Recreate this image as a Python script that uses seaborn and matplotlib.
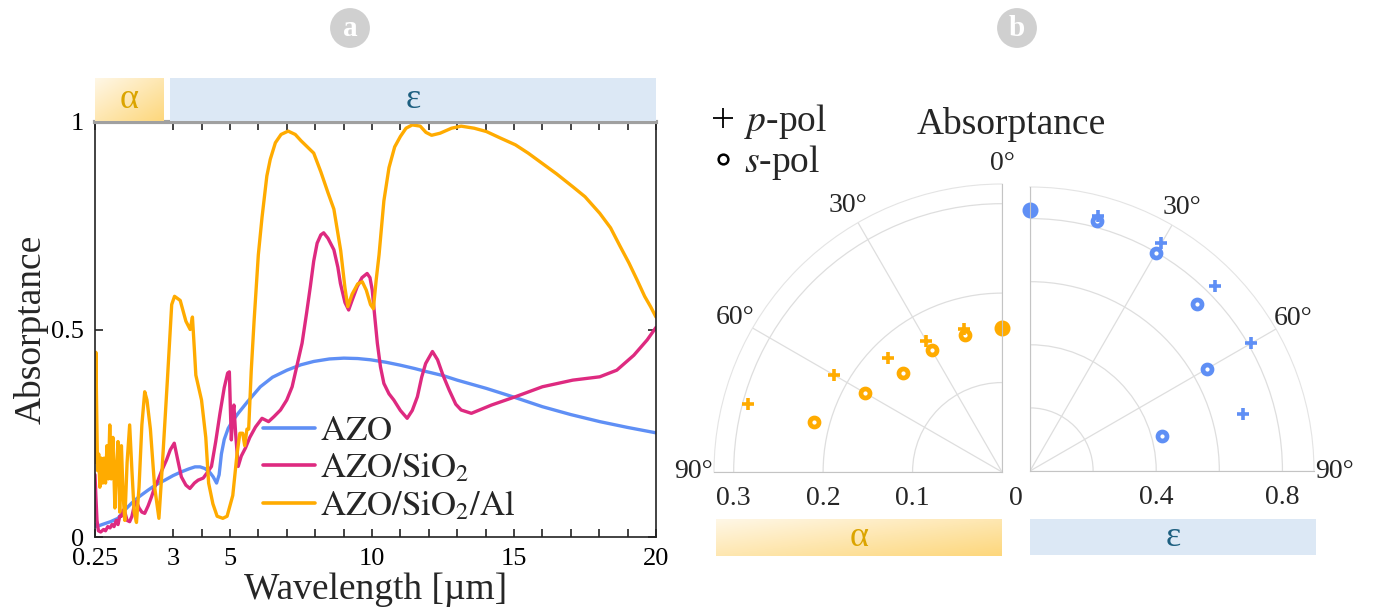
import numpy as np
import pandas as pd
import matplotlib
matplotlib.use("Agg")
import matplotlib.pyplot as plt
from matplotlib.lines import Line2D
from matplotlib.colors import LinearSegmentedColormap
import seaborn as sns

# ---- panel a: absorptance spectra ----
azo_wl = [0.25, 0.3, 0.5, 0.8, 1.06, 1.3, 1.53, 1.8, 2.12, 2.4, 2.71, 3.0, 3.29, 3.55,
          3.77, 3.95, 4.12, 4.3, 4.41, 4.53, 4.62, 4.7, 4.8, 4.94, 5.1, 5.29, 5.62, 6.07,
          6.5, 7.01, 7.5, 7.95, 8.5, 9.01, 9.5, 9.95, 10.5, 11.0, 11.5, 11.95, 12.5, 13.0,
          14.03, 15.0, 16.0, 17.0, 18.02, 19.0, 20.0]
azo_abs = [0.03, 0.025, 0.03, 0.037, 0.045, 0.065, 0.081, 0.097, 0.113, 0.126, 0.137, 0.148,
           0.157, 0.164, 0.169, 0.169, 0.165, 0.155, 0.145, 0.13, 0.15, 0.2, 0.235, 0.262,
           0.28, 0.298, 0.326, 0.362, 0.385, 0.402, 0.415, 0.423, 0.429, 0.431, 0.43, 0.427,
           0.421, 0.414, 0.406, 0.398, 0.389, 0.378, 0.358, 0.337, 0.314, 0.295, 0.278,
           0.264, 0.251]

sio2_wl = [0.25, 0.28, 0.32, 0.37, 0.45, 0.55, 0.62, 0.7, 0.78, 0.85, 0.92, 1.0, 1.06, 1.12,
           1.18, 1.24, 1.3, 1.38, 1.47, 1.55, 1.63, 1.71, 1.8, 1.9, 2.0, 2.12, 2.24, 2.35,
           2.47, 2.6, 2.77, 2.9, 3.04, 3.15, 3.29, 3.45, 3.59, 3.75, 3.88, 4.06, 4.2, 4.35,
           4.5, 4.65, 4.8, 4.92, 4.98, 5.02, 5.05, 5.1, 5.14, 5.2, 5.29, 5.4, 5.55, 5.7, 5.9,
           6.13, 6.36, 6.55, 6.78, 7.0, 7.19, 7.35, 7.54, 7.7, 7.83, 7.95, 8.07, 8.2, 8.3,
           8.45, 8.66, 8.8, 8.89, 9.05, 9.18, 9.3, 9.48, 9.65, 9.83, 9.93, 10.01, 10.1,
           10.19, 10.3, 10.42, 10.6, 10.77, 11.0, 11.24, 11.42, 11.6, 11.75, 11.89, 12.13,
           12.31, 12.5, 12.72, 12.95, 13.14, 13.5, 14.21, 15.05, 16.0, 17.07, 18.02, 18.62,
           19.22, 19.69, 20.0]
sio2_abs = [0.15, 0.10, 0.04, 0.015, 0.012, 0.018, 0.015, 0.025, 0.022, 0.03, 0.025, 0.04,
            0.03, 0.05, 0.05, 0.065, 0.06, 0.04, 0.037, 0.05, 0.075, 0.085, 0.07, 0.06, 0.057,
            0.075, 0.097, 0.12, 0.137, 0.16, 0.186, 0.21, 0.226, 0.19, 0.145, 0.125, 0.117,
            0.13, 0.137, 0.142, 0.155, 0.17, 0.23, 0.298, 0.36, 0.395, 0.398, 0.30, 0.234,
            0.30, 0.318, 0.25, 0.17, 0.195, 0.215, 0.24, 0.265, 0.286, 0.278, 0.29, 0.306,
            0.33, 0.362, 0.41, 0.467, 0.54, 0.603, 0.665, 0.708, 0.728, 0.733, 0.72, 0.692,
            0.65, 0.611, 0.565, 0.547, 0.57, 0.603, 0.625, 0.635, 0.625, 0.595, 0.53, 0.467,
            0.41, 0.37, 0.345, 0.33, 0.305, 0.286, 0.305, 0.338, 0.385, 0.418, 0.447, 0.427,
            0.39, 0.354, 0.32, 0.306, 0.298, 0.318, 0.338, 0.362, 0.378, 0.386, 0.402, 0.438,
            0.475, 0.505]

al_wl = [0.25, 0.28, 0.31, 0.34, 0.38, 0.42, 0.47, 0.52, 0.57, 0.62, 0.67, 0.72, 0.77, 0.82,
         0.88, 0.95, 1.0, 1.06, 1.12, 1.18, 1.24, 1.3, 1.38, 1.47, 1.55, 1.63, 1.71, 1.8, 1.9,
         2.0, 2.08, 2.2, 2.35, 2.5, 2.6, 2.8, 2.95, 3.05, 3.25, 3.45, 3.6, 3.68, 3.75, 3.8,
         4.0, 4.15, 4.25, 4.4, 4.55, 4.75, 4.9, 5.1, 5.25, 5.35, 5.45, 5.52, 5.6, 5.66, 5.75,
         5.85, 6.0, 6.13, 6.3, 6.42, 6.6, 6.8, 7.05, 7.3, 7.5, 7.8, 7.95, 8.2, 8.45, 8.66,
         8.9, 9.05, 9.15, 9.3, 9.5, 9.66, 9.8, 9.95, 10.05, 10.15, 10.25, 10.42, 10.6, 10.8,
         11.0, 11.2, 11.42, 11.7, 11.9, 12.1, 12.4, 12.8, 13.14, 13.6, 14.03, 14.5, 15.05,
         15.5, 16.0, 16.5, 17.07, 17.5, 18.02, 18.4, 18.74, 19.05, 19.33, 19.6, 19.81, 20.0]
al_abs = [0.18, 0.445, 0.30, 0.16, 0.20, 0.12, 0.19, 0.13, 0.19, 0.13, 0.22, 0.14, 0.27, 0.14,
          0.24, 0.07, 0.16, 0.23, 0.06, 0.22, 0.10, 0.04, 0.18, 0.27, 0.16, 0.06, 0.035, 0.12,
          0.27, 0.35, 0.33, 0.26, 0.12, 0.045, 0.15, 0.38, 0.56, 0.58, 0.57, 0.52, 0.50, 0.53,
          0.45, 0.39, 0.33, 0.24, 0.13, 0.08, 0.05, 0.045, 0.05, 0.10, 0.20, 0.25, 0.25, 0.22,
          0.26, 0.26, 0.40, 0.52, 0.68, 0.77, 0.87, 0.91, 0.95, 0.97, 0.978, 0.97, 0.955, 0.935,
          0.925, 0.88, 0.83, 0.79, 0.69, 0.60, 0.555, 0.585, 0.61, 0.615, 0.595, 0.56, 0.55,
          0.62, 0.68, 0.81, 0.89, 0.94, 0.965, 0.985, 0.993, 0.99, 0.975, 0.968, 0.973, 0.985,
          0.99, 0.985, 0.977, 0.962, 0.945, 0.925, 0.90, 0.875, 0.844, 0.82, 0.78, 0.745, 0.70,
          0.66, 0.62, 0.58, 0.555, 0.53]

samples = ["AZO", "AZO/SiO2", "AZO/SiO2/Al"]
sample_labels = [r"$\mathrm{AZO}$", r"$\mathrm{AZO/SiO_2}$", r"$\mathrm{AZO/SiO_2/Al}$"]
xtick_vals = [0.25] + list(range(3, 21))
xtick_labels = ["0.25" if v == 0.25 else (str(v) if v in (3, 5, 10, 15, 20) else "") for v in xtick_vals]

# ---- panel b: angular absorptance ----
angles_deg = [0, 15, 30, 45, 60, 75]
alpha_p = [0.161, 0.166, 0.169, 0.181, 0.217, 0.294]
alpha_s = [0.161, 0.159, 0.157, 0.157, 0.177, 0.218]
eps_p = [0.826, 0.835, 0.833, 0.829, 0.810, 0.698]
eps_s = [0.826, 0.820, 0.796, 0.748, 0.646, 0.434]

BLUE = "#5f8ff5"
MAGENTA = "#de2a80"
ORANGE = "#ffab00"
GRID = "#dedede"

sns.set_style("ticks")
plt.rcParams["font.family"] = ["Liberation Serif", "DejaVu Serif"]
plt.rcParams["mathtext.fontset"] = "stix"

W, H = 1382, 614
fig = plt.figure(figsize=(W / 100, H / 100), dpi=100)


def box(x0, y0, x1, y1):
    return [x0 / W, 1 - y1 / H, (x1 - x0) / W, (y1 - y0) / H]


alpha_cmap = LinearSegmentedColormap.from_list("alpha_band", ["#fff7e6", "#fdd77c"])
grad = np.add.outer(np.linspace(0, 1, 40), np.linspace(0, 1, 120)) / 2


def band(rect, label, gradient, txtcolor):
    b = fig.add_axes(rect)
    if gradient:
        b.imshow(grad, cmap=alpha_cmap, aspect="auto", extent=(0, 1, 0, 1), origin="upper")
    else:
        b.set_facecolor("#dce8f5")
    b.set_xlim(0, 1)
    b.set_ylim(0, 1)
    b.set_xticks([])
    b.set_yticks([])
    for sp in b.spines.values():
        sp.set_visible(False)
    b.text(0.5, 0.5, label, ha="center", va="center", fontsize=26, color=txtcolor)
    return b


# ---------------- panel a ----------------
ax = fig.add_axes(box(95, 122, 656, 537))
df = pd.concat([
    pd.DataFrame({"wl": azo_wl, "A": azo_abs, "sample": samples[0]}),
    pd.DataFrame({"wl": sio2_wl, "A": sio2_abs, "sample": samples[1]}),
    pd.DataFrame({"wl": al_wl, "A": al_abs, "sample": samples[2]}),
])
palette = dict(zip(samples, [BLUE, MAGENTA, ORANGE]))
sns.lineplot(data=df, x="wl", y="A", hue="sample", hue_order=samples, palette=palette,
             estimator=None, sort=False, linewidth=2.4, legend=False, ax=ax)
ax.set_xlim(0.25, 20)
ax.set_ylim(0, 1)
ax.set_xticks(xtick_vals)
ax.set_xticklabels(xtick_labels)
ax.set_yticks([0, 0.5, 1])
ax.set_yticklabels(["0", "0.5", "1"])
ax.tick_params(direction="in", top=True, right=True, length=6, width=1.2,
               labelsize=19, pad=8, colors="#222222", labelcolor="black")
for name in ["left", "bottom", "right"]:
    ax.spines[name].set_color("#222222")
    ax.spines[name].set_linewidth(1.2)
ax.spines["top"].set_color("#a0a0a0")
ax.spines["top"].set_linewidth(3)
ax.set_xlabel("Wavelength [µm]", fontsize=27, labelpad=2)
ax.set_ylabel("Absorptance", fontsize=27)
ax.yaxis.set_label_coords(-0.083, 0.5)

handles = [Line2D([], [], color=c, lw=2.6) for c in [BLUE, MAGENTA, ORANGE]]
ax.legend(handles, sample_labels, loc="upper left",
          bbox_to_anchor=((263 - 95) / 561, (537 - 415) / 415), frameon=False,
          fontsize=25, handlelength=1.5, handletextpad=0.15, borderpad=0,
          borderaxespad=0, labelspacing=0.12)

band(box(95, 78, 164, 121), "α", True, "#dba400")
band(box(170, 78, 656, 121), "ε", False, "#1d5f80")

# ---------------- panel b ----------------
th = np.deg2rad(angles_deg)


def polar_panel(rect, direction, rmax, rticks, rlabels, thlabels, p_vals, s_vals, color):
    pa = fig.add_axes(rect, projection="polar")
    pa.set_theta_zero_location("N")
    pa.set_theta_direction(direction)
    pa.set_thetamin(0)
    pa.set_thetamax(90)
    pa.set_ylim(0, rmax)
    pa.set_yticks(rticks)
    pa.set_yticklabels([])
    pa.set_xticks(np.deg2rad([0, 30, 60, 90]))
    pa.set_xticklabels(thlabels)
    pa.tick_params(axis="x", labelsize=20, pad=4)
    pa.grid(True, color=GRID, lw=0.9)
    pa.spines["polar"].set_color("#e4e4e4")
    pa.spines["start"].set_color("#c4c4c4")
    pa.spines["end"].set_color("#c4c4c4")
    for r, lab in zip(rticks, rlabels):
        if lab:
            pa.annotate(lab, xy=(np.pi / 2, r), xytext=(0, -10), textcoords="offset points",
                        ha="center", va="top", fontsize=20, annotation_clip=False)
    pa.plot(th[1:], s_vals[1:], ls="none", marker="o", ms=6.5, mfc="white", mec=color,
            mew=3.4, clip_on=False)
    pa.plot(th[1:], p_vals[1:], ls="none", marker="+", ms=9, mec=color, mew=2.6,
            clip_on=False)
    pa.plot(th[:1], s_vals[:1], ls="none", marker="o", ms=10.5, color=color, clip_on=False)
    return pa


axl = polar_panel(box(714, 184, 1002, 472), 1, 0.322, [0.1, 0.2, 0.3],
                  ["0.1", "0.2", "0.3"], ["0°", "30°", "60°", "90°"],
                  alpha_p, alpha_s, ORANGE)
axl.annotate("0", xy=(np.pi / 2, 0), xytext=(10, -10), textcoords="offset points",
             ha="center", va="top", fontsize=20, annotation_clip=False)
axr = polar_panel(box(1030, 187, 1314, 471), -1, 0.9, [0.2, 0.4, 0.6, 0.8],
                  ["", "0.4", "", "0.8"], ["", "30°", "60°", "90°"],
                  eps_p, eps_s, BLUE)

band(box(716, 519, 1002, 556), "α", True, "#dba400")
band(box(1030, 519, 1316, 555), "ε", False, "#1d5f80")

fig.text(1011 / W, 1 - 124 / H, "Absorptance", ha="center", va="center", fontsize=27)
pol_handles = [
    Line2D([], [], ls="none", marker="+", ms=15, mew=1.3, color="black"),
    Line2D([], [], ls="none", marker="o", ms=7, mew=1.8, mfc="none", mec="black"),
]
fig.legend(pol_handles, [r"$p$-pol", r"$s$-pol"], loc="upper left",
           bbox_to_anchor=(708 / W, 1 - 102 / H), frameon=False, fontsize=27,
           handlelength=0.8, handletextpad=0.15, borderpad=0, borderaxespad=0,
           labelspacing=0.05)

# panel tags
for x, tag in [(350, "a"), (1017, "b")]:
    fig.text(x / W, 1 - 28 / H, tag, ha="center", va="center", fontsize=21,
             fontweight="bold", color="white",
             bbox=dict(boxstyle="circle,pad=0.22", fc="#d0d0d0", ec="none"))

fig.savefig("out.png", dpi=100)
